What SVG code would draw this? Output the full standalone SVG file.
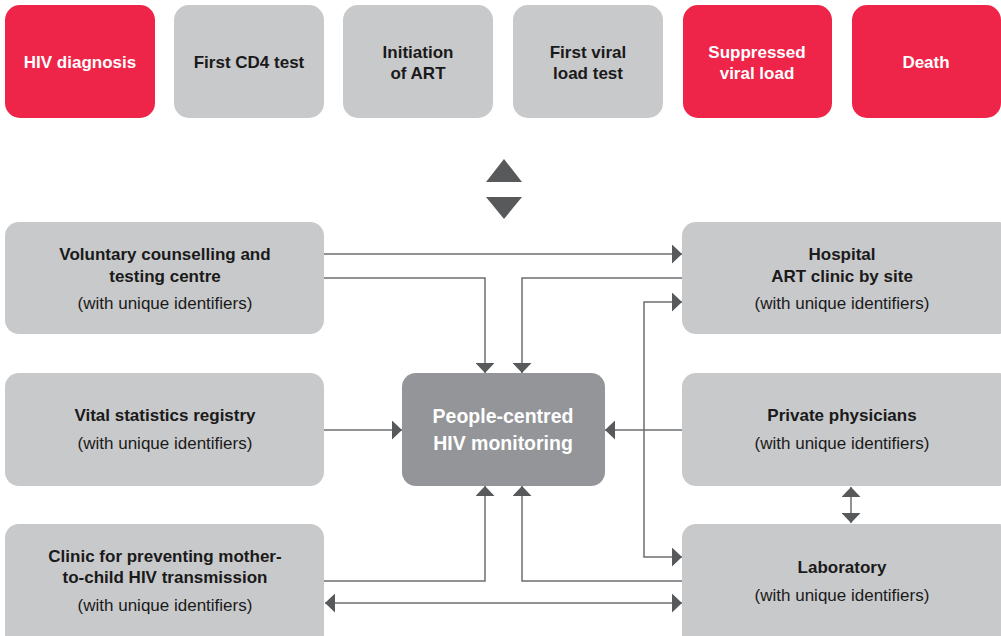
<svg xmlns="http://www.w3.org/2000/svg" width="1001" height="636" viewBox="0 0 1001 636">
<style>
.red{fill:#EE2449}
.gry{fill:#C8C9CB}
.ctr{fill:#939598}
.t{font-family:"Liberation Sans",Arial,sans-serif;text-anchor:middle}
.tb{font-weight:bold;font-size:17px}
.w{fill:#ffffff}
.k{fill:#1a1a1a}
.h{font-weight:bold;font-size:17px;fill:#1a1a1a}
.s{font-size:17px;fill:#1a1a1a}
.c{font-weight:bold;font-size:19.5px;fill:#ffffff}
.ln{fill:none;stroke:#6D6E71;stroke-width:1.5}
.tri{fill:#58595B}
</style>
<defs>
<marker id="ah" markerUnits="userSpaceOnUse" markerWidth="11" markerHeight="19" refX="10" refY="9.5" orient="auto-start-reverse" viewBox="0 0 11 19">
<path d="M0,0 L10,9.5 L0,19 Z" fill="#58595B"/>
</marker>
</defs>
<rect width="1001" height="636" fill="#ffffff"/>

<g id="top-hiv-diagnosis"><rect class="red" x="5" y="5" width="150" height="113" rx="15"/><text class="t tb w" x="80" y="68">HIV diagnosis</text></g>
<g id="top-first-cd4"><rect class="gry" x="174" y="5" width="150" height="113" rx="15"/><text class="t tb k" x="249" y="68">First CD4 test</text></g>
<g id="top-initiation-art"><rect class="gry" x="343" y="5" width="150" height="113" rx="15"/><text class="t tb k" x="418" y="58">Initiation</text><text class="t tb k" x="418" y="79">of ART</text></g>
<g id="top-first-viral"><rect class="gry" x="513" y="5" width="150" height="113" rx="15"/><text class="t tb k" x="588" y="58">First viral</text><text class="t tb k" x="588" y="79">load test</text></g>
<g id="top-suppressed"><rect class="red" x="683" y="5" width="149" height="113" rx="15"/><text class="t tb w" x="757" y="58">Suppressed</text><text class="t tb w" x="757" y="79">viral load</text></g>
<g id="top-death"><rect class="red" x="852" y="5" width="149" height="113" rx="15"/><text class="t tb w" x="926" y="68">Death</text></g>

<g id="updown"><path class="tri" d="M486,182 L504,159 L522,182 Z"/><path class="tri" d="M486,197 L522,197 L504,219 Z"/></g>

<g id="connectors">
<path class="ln" d="M324,254 H682" marker-end="url(#ah)"/>
<path class="ln" d="M324,278 H485 V373" marker-end="url(#ah)"/>
<path class="ln" d="M682,278 H522 V373" marker-end="url(#ah)"/>
<path class="ln" d="M682,302 H644 V557 H682" marker-start="url(#ah)" marker-end="url(#ah)"/>
<path class="ln" d="M324,430 H402" marker-end="url(#ah)"/>
<path class="ln" d="M682,430 H605" marker-end="url(#ah)"/>
<path class="ln" d="M324,581 H485 V486" marker-end="url(#ah)"/>
<path class="ln" d="M682,581 H522 V486" marker-end="url(#ah)"/>
<path class="ln" d="M325,603 H682" marker-start="url(#ah)" marker-end="url(#ah)"/>
<path class="ln" d="M851,487 V523" marker-start="url(#ah)" marker-end="url(#ah)"/>
</g>

<g id="vct"><rect class="gry" x="5" y="222" width="319" height="112" rx="14"/>
<text class="t h" x="165" y="260">Voluntary counselling and</text>
<text class="t h" x="165" y="282">testing centre</text>
<text class="t s" x="165" y="309">(with unique identifiers)</text></g>

<g id="hospital"><rect class="gry" x="682" y="222" width="330" height="112" rx="14"/>
<text class="t h" x="842" y="260">Hospital</text>
<text class="t h" x="842" y="282">ART clinic by site</text>
<text class="t s" x="842" y="309">(with unique identifiers)</text></g>

<g id="vital"><rect class="gry" x="5" y="373" width="319" height="113" rx="14"/>
<text class="t h" x="165" y="421">Vital statistics registry</text>
<text class="t s" x="165" y="449">(with unique identifiers)</text></g>

<g id="private"><rect class="gry" x="682" y="373" width="330" height="113" rx="14"/>
<text class="t h" x="842" y="421">Private physicians</text>
<text class="t s" x="842" y="449">(with unique identifiers)</text></g>

<g id="center"><rect class="ctr" x="402" y="373" width="203" height="113" rx="14"/>
<text class="t c" x="503" y="423">People-centred</text>
<text class="t c" x="503" y="450">HIV monitoring</text></g>

<g id="pmtct"><rect class="gry" x="5" y="524" width="319" height="130" rx="14"/>
<text class="t h" x="165" y="562">Clinic for preventing mother-</text>
<text class="t h" x="165" y="583">to-child HIV transmission</text>
<text class="t s" x="165" y="611">(with unique identifiers)</text></g>

<g id="laboratory"><rect class="gry" x="682" y="524" width="330" height="130" rx="14"/>
<text class="t h" x="842" y="573">Laboratory</text>
<text class="t s" x="842" y="601">(with unique identifiers)</text></g>
</svg>
